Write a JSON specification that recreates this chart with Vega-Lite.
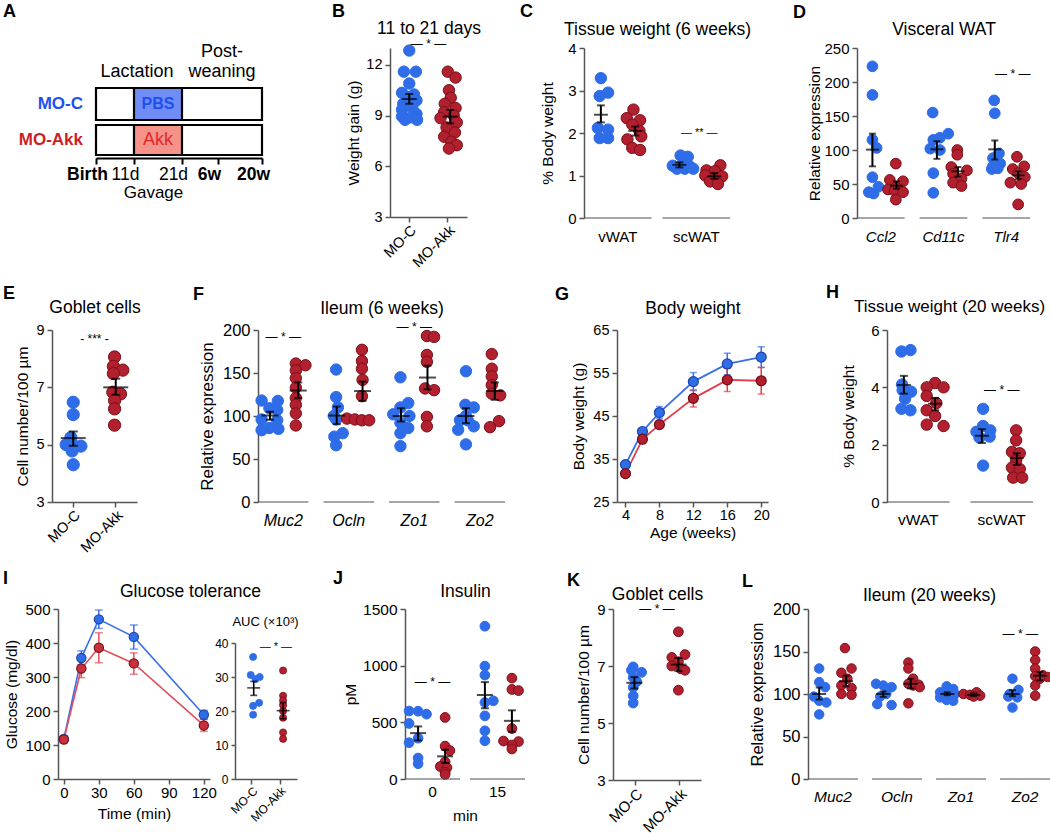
{
"$schema": "https://vega.github.io/schema/vega-lite/v6.json",
"background": "white",
"padding": {"left": 3, "top": 2, "right": 0, "bottom": 0},
"spacing": 14,
"resolve": {"scale": {"color": "independent", "fill": "independent", "stroke": "independent", "xOffset": "independent"}},
"datasets": {
"A_box": [{"x0":0,"x1":166,"y0":38,"y1":70,"k":"none"},{"x0":0,"x1":166,"y0":3,"y1":33,"k":"none"},{"x0":38,"x1":86,"y0":38,"y1":70,"k":"PBS"},{"x0":38,"x1":86,"y0":3,"y1":33,"k":"Akk"}],
"A_txt": [{"x":-13,"y":54,"t":"MO-C","k":"lab"},{"x":-13,"y":18,"t":"MO-Akk","k":"lab"},{"x":62,"y":54,"t":"PBS","k":"pbs"},{"x":62,"y":18,"t":"Akk","k":"norm"},{"x":41,"y":86,"t":"Lactation","k":"norm"},{"x":126,"y":106,"t":"Post-","k":"norm"},{"x":126,"y":86,"t":"weaning","k":"norm"}],
"B_pts": [{"g":"MO-C","s":0,"v":12.85},{"g":"MO-C","s":-0.9,"v":11.6},{"g":"MO-C","s":1.1,"v":11.6},{"g":"MO-C","s":0,"v":10.9},{"g":"MO-C","s":-1.2,"v":10.35},{"g":"MO-C","s":0.8,"v":10.25},{"g":"MO-C","s":-0.3,"v":10.1},{"g":"MO-C","s":1.2,"v":9.9},{"g":"MO-C","s":-1,"v":9.7},{"g":"MO-C","s":0.5,"v":9.5},{"g":"MO-C","s":-1.2,"v":9.35},{"g":"MO-C","s":1.2,"v":9.1},{"g":"MO-C","s":-1.2,"v":8.95},{"g":"MO-C","s":0.3,"v":8.9},{"g":"MO-C","s":-0.7,"v":8.75},{"g":"MO-C","s":1.3,"v":8.75},{"g":"MO-Akk","s":0,"v":11.6},{"g":"MO-Akk","s":1.3,"v":11.25},{"g":"MO-Akk","s":0.2,"v":10.5},{"g":"MO-Akk","s":0.5,"v":10.05},{"g":"MO-Akk","s":-0.5,"v":9.7},{"g":"MO-Akk","s":1.3,"v":9.45},{"g":"MO-Akk","s":-0.6,"v":9.2},{"g":"MO-Akk","s":1.0,"v":9.0},{"g":"MO-Akk","s":-1.2,"v":8.85},{"g":"MO-Akk","s":1.5,"v":8.6},{"g":"MO-Akk","s":-0.2,"v":8.3},{"g":"MO-Akk","s":1.2,"v":8.0},{"g":"MO-Akk","s":-0.6,"v":7.75},{"g":"MO-Akk","s":0.6,"v":7.45},{"g":"MO-Akk","s":1.5,"v":7.25},{"g":"MO-Akk","s":0.2,"v":7.05}],
"B_sum": [{"g":"MO-C","s":0,"m":9.98,"lo":9.7,"hi":10.28},{"g":"MO-Akk","s":0.4,"m":8.94,"lo":8.54,"hi":9.34}],
"B_sig": [{"g":"MO-C","s":3.2,"v":13.25,"t":"— * —"}],
"C_cat": [{"c":"vWAT"},{"c":"scWAT"}],
"C_pts": [{"c":"vWAT","g":"MO-C","s":-2.8,"v":3.29},{"c":"vWAT","g":"MO-C","s":-1.6,"v":2.95},{"c":"vWAT","g":"MO-C","s":-3.0,"v":2.87},{"c":"vWAT","g":"MO-C","s":-3.3,"v":2.12},{"c":"vWAT","g":"MO-C","s":-1.6,"v":2.08},{"c":"vWAT","g":"MO-C","s":-3.0,"v":1.88},{"c":"vWAT","g":"MO-C","s":-1.6,"v":1.88},{"c":"vWAT","g":"MO-Akk","s":2.6,"v":2.55},{"c":"vWAT","g":"MO-Akk","s":1.5,"v":2.35},{"c":"vWAT","g":"MO-Akk","s":3.7,"v":2.3},{"c":"vWAT","g":"MO-Akk","s":2.4,"v":2.2},{"c":"vWAT","g":"MO-Akk","s":3.6,"v":2.05},{"c":"vWAT","g":"MO-Akk","s":3.9,"v":1.92},{"c":"vWAT","g":"MO-Akk","s":1.6,"v":1.85},{"c":"vWAT","g":"MO-Akk","s":2.4,"v":1.65},{"c":"vWAT","g":"MO-Akk","s":3.7,"v":1.6},{"c":"scWAT","g":"MO-C","s":-2.6,"v":1.47},{"c":"scWAT","g":"MO-C","s":-1.4,"v":1.44},{"c":"scWAT","g":"MO-C","s":-3.9,"v":1.23},{"c":"scWAT","g":"MO-C","s":-2.5,"v":1.22},{"c":"scWAT","g":"MO-C","s":-1.2,"v":1.23},{"c":"scWAT","g":"MO-C","s":-3.2,"v":1.16},{"c":"scWAT","g":"MO-C","s":-1.9,"v":1.16},{"c":"scWAT","g":"MO-C","s":-0.5,"v":1.16},{"c":"scWAT","g":"MO-Akk","s":4.0,"v":1.24},{"c":"scWAT","g":"MO-Akk","s":1.7,"v":1.12},{"c":"scWAT","g":"MO-Akk","s":3.1,"v":1.1},{"c":"scWAT","g":"MO-Akk","s":1.5,"v":1.0},{"c":"scWAT","g":"MO-Akk","s":4.3,"v":0.98},{"c":"scWAT","g":"MO-Akk","s":2.9,"v":0.9},{"c":"scWAT","g":"MO-Akk","s":2.3,"v":0.86},{"c":"scWAT","g":"MO-Akk","s":3.6,"v":0.8}],
"C_sum": [{"c":"vWAT","g":"MO-C","s":-2.8,"m":2.43,"lo":2.25,"hi":2.65},{"c":"vWAT","g":"MO-Akk","s":2.9,"m":2.05,"lo":1.94,"hi":2.15},{"c":"scWAT","g":"MO-C","s":-2.8,"m":1.25,"lo":1.19,"hi":1.31},{"c":"scWAT","g":"MO-Akk","s":3.0,"m":0.98,"lo":0.92,"hi":1.06}],
"C_sig": [{"c":"scWAT","s":0.5,"v":1.99,"t":"— ** —"}],
"D_cat": [{"c":"Ccl2"},{"c":"Cd11c"},{"c":"Tlr4"}],
"D_pts": [{"c":"Ccl2","g":"MO-C","s":-1.4,"v":223},{"c":"Ccl2","g":"MO-C","s":-1.4,"v":181},{"c":"Ccl2","g":"MO-C","s":-1.4,"v":115},{"c":"Ccl2","g":"MO-C","s":-0.7,"v":103},{"c":"Ccl2","g":"MO-C","s":-1.4,"v":60},{"c":"Ccl2","g":"MO-C","s":-0.4,"v":46},{"c":"Ccl2","g":"MO-C","s":-2.0,"v":38},{"c":"Ccl2","g":"MO-C","s":-1.2,"v":36},{"c":"Ccl2","g":"MO-Akk","s":2.5,"v":80},{"c":"Ccl2","g":"MO-Akk","s":1.5,"v":56},{"c":"Ccl2","g":"MO-Akk","s":3.7,"v":54},{"c":"Ccl2","g":"MO-Akk","s":2.5,"v":45},{"c":"Ccl2","g":"MO-Akk","s":1.2,"v":42},{"c":"Ccl2","g":"MO-Akk","s":2.3,"v":40},{"c":"Ccl2","g":"MO-Akk","s":3.7,"v":38},{"c":"Ccl2","g":"MO-Akk","s":2.5,"v":27},{"c":"Cd11c","g":"MO-C","s":-1.8,"v":155},{"c":"Cd11c","g":"MO-C","s":0.8,"v":124},{"c":"Cd11c","g":"MO-C","s":-0.6,"v":118},{"c":"Cd11c","g":"MO-C","s":-1.7,"v":115},{"c":"Cd11c","g":"MO-C","s":-2.2,"v":102},{"c":"Cd11c","g":"MO-C","s":-0.6,"v":100},{"c":"Cd11c","g":"MO-C","s":-1.7,"v":66},{"c":"Cd11c","g":"MO-C","s":-1.7,"v":37},{"c":"Cd11c","g":"MO-Akk","s":2.3,"v":100},{"c":"Cd11c","g":"MO-Akk","s":2.3,"v":93},{"c":"Cd11c","g":"MO-Akk","s":1.3,"v":75},{"c":"Cd11c","g":"MO-Akk","s":3.9,"v":70},{"c":"Cd11c","g":"MO-Akk","s":1.6,"v":65},{"c":"Cd11c","g":"MO-Akk","s":3.0,"v":58},{"c":"Cd11c","g":"MO-Akk","s":1.6,"v":52},{"c":"Cd11c","g":"MO-Akk","s":3.0,"v":47},{"c":"Tlr4","g":"MO-C","s":-2.0,"v":173},{"c":"Tlr4","g":"MO-C","s":-1.9,"v":154},{"c":"Tlr4","g":"MO-C","s":-1.2,"v":95},{"c":"Tlr4","g":"MO-C","s":-2.2,"v":88},{"c":"Tlr4","g":"MO-C","s":-1.0,"v":80},{"c":"Tlr4","g":"MO-C","s":-2.2,"v":76},{"c":"Tlr4","g":"MO-C","s":-1.4,"v":73},{"c":"Tlr4","g":"MO-C","s":-2.4,"v":72},{"c":"Tlr4","g":"MO-Akk","s":1.8,"v":90},{"c":"Tlr4","g":"MO-Akk","s":3.0,"v":76},{"c":"Tlr4","g":"MO-Akk","s":1.1,"v":72},{"c":"Tlr4","g":"MO-Akk","s":2.0,"v":66},{"c":"Tlr4","g":"MO-Akk","s":3.1,"v":60},{"c":"Tlr4","g":"MO-Akk","s":0.7,"v":52},{"c":"Tlr4","g":"MO-Akk","s":2.5,"v":50},{"c":"Tlr4","g":"MO-Akk","s":2.0,"v":20}],
"D_sum": [{"c":"Ccl2","g":"MO-C","s":-1.4,"m":100.5,"lo":76,"hi":124},{"c":"Ccl2","g":"MO-Akk","s":2.6,"m":47.5,"lo":43,"hi":54},{"c":"Cd11c","g":"MO-C","s":-1.1,"m":101,"lo":87,"hi":113},{"c":"Cd11c","g":"MO-Akk","s":2.4,"m":68.6,"lo":61,"hi":75},{"c":"Tlr4","g":"MO-C","s":-1.9,"m":101,"lo":86,"hi":114},{"c":"Tlr4","g":"MO-Akk","s":2.0,"m":62.7,"lo":57,"hi":68.6}],
"D_sig": [{"c":"Tlr4","s":1.1,"v":212,"t":"— * —"}],
"E_pts": [{"g":"MO-C","s":0,"v":6.48},{"g":"MO-C","s":0,"v":6.05},{"g":"MO-C","s":-0.4,"v":5.25},{"g":"MO-C","s":-1.2,"v":5.0},{"g":"MO-C","s":0,"v":4.98},{"g":"MO-C","s":1.3,"v":4.95},{"g":"MO-C","s":-0.2,"v":4.78},{"g":"MO-C","s":0,"v":4.3},{"g":"MO-Akk","s":-0.2,"v":8.06},{"g":"MO-Akk","s":-0.4,"v":7.73},{"g":"MO-Akk","s":1.2,"v":7.6},{"g":"MO-Akk","s":-0.4,"v":7.48},{"g":"MO-Akk","s":-0.5,"v":6.83},{"g":"MO-Akk","s":0.8,"v":6.77},{"g":"MO-Akk","s":-0.2,"v":6.54},{"g":"MO-Akk","s":-0.2,"v":6.25},{"g":"MO-Akk","s":-0.2,"v":5.68}],
"E_sum": [{"g":"MO-C","s":0,"m":5.23,"lo":4.96,"hi":5.46},{"g":"MO-Akk","s":0,"m":7.0,"lo":6.74,"hi":7.3}],
"E_sig": [{"g":"MO-C","s":3.6,"v":8.67,"t":"- *** -"}],
"F_cat": [{"c":"Muc2"},{"c":"Ocln"},{"c":"Zo1"},{"c":"Zo2"}],
"F_pts": [{"c":"Muc2","g":"MO-C","s":-3.6,"v":118},{"c":"Muc2","g":"MO-C","s":-0.9,"v":117.5},{"c":"Muc2","g":"MO-C","s":-2.3,"v":109},{"c":"Muc2","g":"MO-C","s":-1.0,"v":107},{"c":"Muc2","g":"MO-C","s":-3.6,"v":96},{"c":"Muc2","g":"MO-C","s":-1.0,"v":95},{"c":"Muc2","g":"MO-C","s":-2.3,"v":86},{"c":"Muc2","g":"MO-C","s":-3.6,"v":83.5},{"c":"Muc2","g":"MO-C","s":-0.8,"v":85},{"c":"Muc2","g":"MO-Akk","s":2.1,"v":161},{"c":"Muc2","g":"MO-Akk","s":3.7,"v":159},{"c":"Muc2","g":"MO-Akk","s":2.1,"v":153},{"c":"Muc2","g":"MO-Akk","s":2.1,"v":144},{"c":"Muc2","g":"MO-Akk","s":2.1,"v":133},{"c":"Muc2","g":"MO-Akk","s":2.1,"v":121},{"c":"Muc2","g":"MO-Akk","s":2.1,"v":113},{"c":"Muc2","g":"MO-Akk","s":2.1,"v":103},{"c":"Muc2","g":"MO-Akk","s":2.1,"v":89},{"c":"Ocln","g":"MO-C","s":-2.1,"v":154},{"c":"Ocln","g":"MO-C","s":-2.1,"v":122},{"c":"Ocln","g":"MO-C","s":-1.8,"v":110},{"c":"Ocln","g":"MO-C","s":-2.5,"v":100},{"c":"Ocln","g":"MO-C","s":-2.1,"v":96},{"c":"Ocln","g":"MO-C","s":-1.0,"v":80},{"c":"Ocln","g":"MO-C","s":-2.4,"v":76},{"c":"Ocln","g":"MO-C","s":-2.1,"v":66},{"c":"Ocln","g":"MO-Akk","s":2.2,"v":177},{"c":"Ocln","g":"MO-Akk","s":2.2,"v":164},{"c":"Ocln","g":"MO-Akk","s":2.2,"v":155},{"c":"Ocln","g":"MO-Akk","s":2.3,"v":142},{"c":"Ocln","g":"MO-Akk","s":2.2,"v":123},{"c":"Ocln","g":"MO-Akk","s":-0.3,"v":97},{"c":"Ocln","g":"MO-Akk","s":1.0,"v":96},{"c":"Ocln","g":"MO-Akk","s":2.2,"v":95},{"c":"Ocln","g":"MO-Akk","s":3.4,"v":95},{"c":"Zo1","g":"MO-C","s":-2.3,"v":145},{"c":"Zo1","g":"MO-C","s":-1.0,"v":115},{"c":"Zo1","g":"MO-C","s":-2.3,"v":110},{"c":"Zo1","g":"MO-C","s":-3.5,"v":102},{"c":"Zo1","g":"MO-C","s":-0.8,"v":100},{"c":"Zo1","g":"MO-C","s":-2.3,"v":92},{"c":"Zo1","g":"MO-C","s":-1.0,"v":86},{"c":"Zo1","g":"MO-C","s":-2.3,"v":80},{"c":"Zo1","g":"MO-C","s":-2.3,"v":65},{"c":"Zo1","g":"MO-Akk","s":2.1,"v":193},{"c":"Zo1","g":"MO-Akk","s":3.3,"v":192},{"c":"Zo1","g":"MO-Akk","s":2.1,"v":171},{"c":"Zo1","g":"MO-Akk","s":2.1,"v":163},{"c":"Zo1","g":"MO-Akk","s":1.8,"v":132},{"c":"Zo1","g":"MO-Akk","s":3.3,"v":130},{"c":"Zo1","g":"MO-Akk","s":2.1,"v":99},{"c":"Zo1","g":"MO-Akk","s":2.1,"v":88},{"c":"Zo2","g":"MO-C","s":-2.3,"v":152},{"c":"Zo2","g":"MO-C","s":-2.4,"v":113},{"c":"Zo2","g":"MO-C","s":-1.0,"v":110},{"c":"Zo2","g":"MO-C","s":-2.3,"v":100},{"c":"Zo2","g":"MO-C","s":-3.3,"v":95},{"c":"Zo2","g":"MO-C","s":-2.0,"v":95},{"c":"Zo2","g":"MO-C","s":-1.0,"v":88},{"c":"Zo2","g":"MO-C","s":-3.6,"v":84},{"c":"Zo2","g":"MO-C","s":-2.3,"v":67},{"c":"Zo2","g":"MO-Akk","s":2.0,"v":172},{"c":"Zo2","g":"MO-Akk","s":2.0,"v":155},{"c":"Zo2","g":"MO-Akk","s":2.0,"v":146},{"c":"Zo2","g":"MO-Akk","s":2.0,"v":136},{"c":"Zo2","g":"MO-Akk","s":2.0,"v":126},{"c":"Zo2","g":"MO-Akk","s":3.4,"v":124},{"c":"Zo2","g":"MO-Akk","s":3.2,"v":94},{"c":"Zo2","g":"MO-Akk","s":1.7,"v":87}],
"F_sum": [{"c":"Muc2","g":"MO-C","s":-2.2,"m":100.6,"lo":95.5,"hi":105},{"c":"Muc2","g":"MO-Akk","s":2.5,"m":129.6,"lo":121,"hi":139},{"c":"Ocln","g":"MO-C","s":-2.0,"m":100.5,"lo":90.5,"hi":111},{"c":"Ocln","g":"MO-Akk","s":2.3,"m":129,"lo":117.6,"hi":140},{"c":"Zo1","g":"MO-C","s":-2.2,"m":100,"lo":93.6,"hi":109},{"c":"Zo1","g":"MO-Akk","s":2.2,"m":144.7,"lo":131,"hi":158.6},{"c":"Zo2","g":"MO-C","s":-2.3,"m":100,"lo":91.7,"hi":109},{"c":"Zo2","g":"MO-Akk","s":2.5,"m":129,"lo":118.8,"hi":139}],
"F_sig": [{"c":"Muc2","s":0,"v":191.5,"t":"— * —"},{"c":"Zo1","s":0,"v":204,"t":"— * —"}],
"G_d": [{"w":4,"g":"MO-C","m":33.7,"lo":33.2,"hi":34.2},{"w":6,"g":"MO-C","m":41.4,"lo":40.8,"hi":42.0},{"w":8,"g":"MO-C","m":45.8,"lo":44.4,"hi":47.2},{"w":12,"g":"MO-C","m":53.0,"lo":50.9,"hi":55.1},{"w":16,"g":"MO-C","m":57.1,"lo":54.6,"hi":59.6},{"w":20,"g":"MO-C","m":58.7,"lo":56.3,"hi":61.1},{"w":4,"g":"MO-Akk","m":31.6,"lo":31.1,"hi":32.1},{"w":6,"g":"MO-Akk","m":39.6,"lo":39.0,"hi":40.2},{"w":8,"g":"MO-Akk","m":43.0,"lo":42.2,"hi":43.8},{"w":12,"g":"MO-Akk","m":49.1,"lo":47.1,"hi":51.1},{"w":16,"g":"MO-Akk","m":53.4,"lo":50.7,"hi":56.1},{"w":20,"g":"MO-Akk","m":53.2,"lo":50.1,"hi":56.3}],
"H_cat": [{"c":"vWAT"},{"c":"scWAT"}],
"H_pts": [{"c":"vWAT","g":"MO-C","s":-1.3,"v":5.3},{"c":"vWAT","g":"MO-C","s":-2.8,"v":5.25},{"c":"vWAT","g":"MO-C","s":-2.7,"v":4.1},{"c":"vWAT","g":"MO-C","s":-2.6,"v":3.9},{"c":"vWAT","g":"MO-C","s":-1.2,"v":3.85},{"c":"vWAT","g":"MO-C","s":-2.2,"v":3.6},{"c":"vWAT","g":"MO-C","s":-2.8,"v":3.25},{"c":"vWAT","g":"MO-C","s":-1.3,"v":3.2},{"c":"vWAT","g":"MO-Akk","s":2.8,"v":4.15},{"c":"vWAT","g":"MO-Akk","s":1.4,"v":4.0},{"c":"vWAT","g":"MO-Akk","s":4.2,"v":4.0},{"c":"vWAT","g":"MO-Akk","s":1.4,"v":3.7},{"c":"vWAT","g":"MO-Akk","s":3.0,"v":3.45},{"c":"vWAT","g":"MO-Akk","s":1.4,"v":3.2},{"c":"vWAT","g":"MO-Akk","s":2.8,"v":3.0},{"c":"vWAT","g":"MO-Akk","s":1.4,"v":2.7},{"c":"vWAT","g":"MO-Akk","s":4.2,"v":2.65},{"c":"scWAT","g":"MO-C","s":-3.1,"v":3.25},{"c":"scWAT","g":"MO-C","s":-3.1,"v":2.65},{"c":"scWAT","g":"MO-C","s":-1.9,"v":2.5},{"c":"scWAT","g":"MO-C","s":-4.2,"v":2.45},{"c":"scWAT","g":"MO-C","s":-2.0,"v":2.28},{"c":"scWAT","g":"MO-C","s":-3.7,"v":2.25},{"c":"scWAT","g":"MO-C","s":-3.1,"v":1.27},{"c":"scWAT","g":"MO-Akk","s":2.4,"v":2.5},{"c":"scWAT","g":"MO-Akk","s":2.4,"v":2.15},{"c":"scWAT","g":"MO-Akk","s":1.7,"v":1.75},{"c":"scWAT","g":"MO-Akk","s":3.0,"v":1.7},{"c":"scWAT","g":"MO-Akk","s":2.4,"v":1.45},{"c":"scWAT","g":"MO-Akk","s":1.7,"v":1.2},{"c":"scWAT","g":"MO-Akk","s":3.0,"v":1.15},{"c":"scWAT","g":"MO-Akk","s":1.9,"v":0.85},{"c":"scWAT","g":"MO-Akk","s":3.4,"v":0.85}],
"H_sum": [{"c":"vWAT","g":"MO-C","s":-2.4,"m":4.08,"lo":3.78,"hi":4.4},{"c":"vWAT","g":"MO-Akk","s":2.8,"m":3.43,"lo":3.2,"hi":3.63},{"c":"scWAT","g":"MO-C","s":-3.3,"m":2.31,"lo":2.06,"hi":2.54},{"c":"scWAT","g":"MO-Akk","s":2.5,"m":1.53,"lo":1.29,"hi":1.7}],
"H_sig": [{"c":"scWAT","s":0,"v":3.9,"t":"— * —"}],
"I_d": [{"t":0,"g":"MO-C","m":118,"lo":110,"hi":126},{"t":15,"g":"MO-C","m":356,"lo":336,"hi":377},{"t":30,"g":"MO-C","m":469.5,"lo":443,"hi":497},{"t":60,"g":"MO-C","m":418,"lo":382,"hi":453},{"t":120,"g":"MO-C","m":189,"lo":176,"hi":202},{"t":0,"g":"MO-Akk","m":116,"lo":106,"hi":126},{"t":15,"g":"MO-Akk","m":325,"lo":298,"hi":352},{"t":30,"g":"MO-Akk","m":386,"lo":342,"hi":430},{"t":60,"g":"MO-Akk","m":340,"lo":308,"hi":371},{"t":120,"g":"MO-Akk","m":157.5,"lo":140,"hi":175}],
"AUC_pts": [{"g":"MO-C","s":0.2,"v":35.9},{"g":"MO-C","s":-0.2,"v":30.6},{"g":"MO-C","s":1.3,"v":30},{"g":"MO-C","s":0.6,"v":29.4},{"g":"MO-C","s":1.2,"v":22.4},{"g":"MO-C","s":0.2,"v":21.5},{"g":"MO-C","s":0.2,"v":18.9},{"g":"MO-Akk","s":0.5,"v":31.9},{"g":"MO-Akk","s":0.5,"v":24.5},{"g":"MO-Akk","s":0.5,"v":23.1},{"g":"MO-Akk","s":0.5,"v":21.7},{"g":"MO-Akk","s":0.5,"v":20},{"g":"MO-Akk","s":0.5,"v":18},{"g":"MO-Akk","s":0.5,"v":13.7},{"g":"MO-Akk","s":0.5,"v":11.8}],
"AUC_sum": [{"g":"MO-C","s":0.3,"m":26.8,"lo":24.6,"hi":28.7},{"g":"MO-Akk","s":0.5,"m":20.1,"lo":17.7,"hi":22.4}],
"AUC_sig": [{"g":"MO-Akk","s":-0.7,"v":38.8,"t":"— * —"}],
"J_cat": [{"c":"0"},{"c":"15"}],
"J_pts": [{"c":"0","g":"MO-C","s":-3.9,"v":600},{"c":"0","g":"MO-C","s":-2.4,"v":598},{"c":"0","g":"MO-C","s":-1.0,"v":572},{"c":"0","g":"MO-C","s":-3.9,"v":490},{"c":"0","g":"MO-C","s":-2.4,"v":360},{"c":"0","g":"MO-C","s":-3.9,"v":320},{"c":"0","g":"MO-C","s":-2.4,"v":185},{"c":"0","g":"MO-C","s":-2.4,"v":135},{"c":"0","g":"MO-Akk","s":2.1,"v":543},{"c":"0","g":"MO-Akk","s":2.1,"v":290},{"c":"0","g":"MO-Akk","s":2.9,"v":250},{"c":"0","g":"MO-Akk","s":2.1,"v":150},{"c":"0","g":"MO-Akk","s":1.3,"v":110},{"c":"0","g":"MO-Akk","s":2.4,"v":100},{"c":"0","g":"MO-Akk","s":2.1,"v":60},{"c":"0","g":"MO-Akk","s":2.1,"v":40},{"c":"15","g":"MO-C","s":-2.1,"v":1348},{"c":"15","g":"MO-C","s":-2.1,"v":996},{"c":"15","g":"MO-C","s":-2.1,"v":917},{"c":"15","g":"MO-C","s":-0.7,"v":690},{"c":"15","g":"MO-C","s":-2.1,"v":675},{"c":"15","g":"MO-C","s":-2.1,"v":557},{"c":"15","g":"MO-C","s":-2.1,"v":425},{"c":"15","g":"MO-C","s":-2.1,"v":337},{"c":"15","g":"MO-Akk","s":2.4,"v":890},{"c":"15","g":"MO-Akk","s":2.4,"v":790},{"c":"15","g":"MO-Akk","s":3.5,"v":780},{"c":"15","g":"MO-Akk","s":2.4,"v":445},{"c":"15","g":"MO-Akk","s":1.0,"v":335},{"c":"15","g":"MO-Akk","s":3.5,"v":330},{"c":"15","g":"MO-Akk","s":2.4,"v":300},{"c":"15","g":"MO-Akk","s":2.4,"v":265}],
"J_sum": [{"c":"0","g":"MO-C","s":-2.4,"m":405,"lo":340,"hi":464},{"c":"0","g":"MO-Akk","s":2.1,"m":200,"lo":141,"hi":258},{"c":"15","g":"MO-C","s":-2.1,"m":741,"lo":624,"hi":855},{"c":"15","g":"MO-Akk","s":2.4,"m":513,"lo":416,"hi":606}],
"J_sig": [{"c":"0","s":0,"v":860,"t":"— * —"}],
"K_pts": [{"g":"MO-C","s":-0.3,"v":6.97},{"g":"MO-C","s":-0.6,"v":6.85},{"g":"MO-C","s":1.1,"v":6.78},{"g":"MO-C","s":-0.3,"v":6.6},{"g":"MO-C","s":0.3,"v":6.45},{"g":"MO-C","s":-0.3,"v":6.25},{"g":"MO-C","s":-0.3,"v":5.95},{"g":"MO-C","s":-0.3,"v":5.7},{"g":"MO-Akk","s":-0.1,"v":8.2},{"g":"MO-Akk","s":1.0,"v":7.4},{"g":"MO-Akk","s":-1.2,"v":7.3},{"g":"MO-Akk","s":-0.1,"v":7.15},{"g":"MO-Akk","s":-1.2,"v":7.0},{"g":"MO-Akk","s":0.3,"v":6.9},{"g":"MO-Akk","s":1.0,"v":6.85},{"g":"MO-Akk","s":-0.1,"v":6.15}],
"K_sum": [{"g":"MO-C","s":-0.1,"m":6.41,"lo":6.21,"hi":6.61},{"g":"MO-Akk","s":-0.1,"m":7.05,"lo":6.82,"hi":7.28}],
"K_sig": [{"g":"MO-C","s":3.67,"v":9.0,"t":"— * —"}],
"L_cat": [{"c":"Muc2"},{"c":"Ocln"},{"c":"Zo1"},{"c":"Zo2"}],
"L_pts": [{"c":"Muc2","g":"MO-C","s":-2.3,"v":130},{"c":"Muc2","g":"MO-C","s":-2.3,"v":114},{"c":"Muc2","g":"MO-C","s":-1.3,"v":108},{"c":"Muc2","g":"MO-C","s":-3.2,"v":97},{"c":"Muc2","g":"MO-C","s":-2.3,"v":92},{"c":"Muc2","g":"MO-C","s":-1.1,"v":90},{"c":"Muc2","g":"MO-C","s":-2.3,"v":76},{"c":"Muc2","g":"MO-Akk","s":2.0,"v":154},{"c":"Muc2","g":"MO-Akk","s":3.1,"v":130},{"c":"Muc2","g":"MO-Akk","s":1.4,"v":125},{"c":"Muc2","g":"MO-Akk","s":2.4,"v":118},{"c":"Muc2","g":"MO-Akk","s":1.4,"v":110},{"c":"Muc2","g":"MO-Akk","s":3.1,"v":107},{"c":"Muc2","g":"MO-Akk","s":1.4,"v":100},{"c":"Muc2","g":"MO-Akk","s":3.1,"v":99},{"c":"Ocln","g":"MO-C","s":-3.5,"v":112},{"c":"Ocln","g":"MO-C","s":-2.3,"v":110},{"c":"Ocln","g":"MO-C","s":-0.9,"v":108},{"c":"Ocln","g":"MO-C","s":-1.8,"v":100},{"c":"Ocln","g":"MO-C","s":-2.8,"v":97},{"c":"Ocln","g":"MO-C","s":-3.3,"v":88},{"c":"Ocln","g":"MO-C","s":-0.9,"v":87},{"c":"Ocln","g":"MO-Akk","s":1.9,"v":137},{"c":"Ocln","g":"MO-Akk","s":1.9,"v":130},{"c":"Ocln","g":"MO-Akk","s":2.7,"v":118},{"c":"Ocln","g":"MO-Akk","s":1.9,"v":112},{"c":"Ocln","g":"MO-Akk","s":3.6,"v":111},{"c":"Ocln","g":"MO-Akk","s":2.7,"v":110},{"c":"Ocln","g":"MO-Akk","s":3.8,"v":108},{"c":"Ocln","g":"MO-Akk","s":1.9,"v":89},{"c":"Zo1","g":"MO-C","s":-2.4,"v":109},{"c":"Zo1","g":"MO-C","s":-1.3,"v":106},{"c":"Zo1","g":"MO-C","s":-3.5,"v":102},{"c":"Zo1","g":"MO-C","s":-1.0,"v":100},{"c":"Zo1","g":"MO-C","s":-2.4,"v":99},{"c":"Zo1","g":"MO-C","s":-3.5,"v":96},{"c":"Zo1","g":"MO-C","s":-2.4,"v":93},{"c":"Zo1","g":"MO-C","s":-1.3,"v":92},{"c":"Zo1","g":"MO-Akk","s":2.6,"v":102},{"c":"Zo1","g":"MO-Akk","s":0.4,"v":100},{"c":"Zo1","g":"MO-Akk","s":1.5,"v":99},{"c":"Zo1","g":"MO-Akk","s":3.2,"v":98},{"c":"Zo1","g":"MO-Akk","s":2.1,"v":97},{"c":"Zo2","g":"MO-C","s":-2.1,"v":118},{"c":"Zo2","g":"MO-C","s":-1.1,"v":105},{"c":"Zo2","g":"MO-C","s":-2.6,"v":100},{"c":"Zo2","g":"MO-C","s":-2.8,"v":97},{"c":"Zo2","g":"MO-C","s":-1.3,"v":96},{"c":"Zo2","g":"MO-C","s":-2.1,"v":84},{"c":"Zo2","g":"MO-Akk","s":1.7,"v":150},{"c":"Zo2","g":"MO-Akk","s":1.7,"v":140},{"c":"Zo2","g":"MO-Akk","s":1.7,"v":130},{"c":"Zo2","g":"MO-Akk","s":3.0,"v":122},{"c":"Zo2","g":"MO-Akk","s":1.7,"v":121},{"c":"Zo2","g":"MO-Akk","s":3.8,"v":120},{"c":"Zo2","g":"MO-Akk","s":2.5,"v":118},{"c":"Zo2","g":"MO-Akk","s":1.7,"v":110},{"c":"Zo2","g":"MO-Akk","s":1.7,"v":98}],
"L_sum": [{"c":"Muc2","g":"MO-C","s":-2.3,"m":100,"lo":93.5,"hi":107.7},{"c":"Muc2","g":"MO-Akk","s":2.2,"m":115,"lo":109,"hi":121.5},{"c":"Ocln","g":"MO-C","s":-2.3,"m":100,"lo":96.6,"hi":103},{"c":"Ocln","g":"MO-Akk","s":2.3,"m":112,"lo":106.5,"hi":118},{"c":"Zo1","g":"MO-C","s":-2.3,"m":100,"lo":98.6,"hi":102},{"c":"Zo1","g":"MO-Akk","s":2.1,"m":99,"lo":97.4,"hi":100.6},{"c":"Zo2","g":"MO-C","s":-2.1,"m":100,"lo":97.4,"hi":104.5},{"c":"Zo2","g":"MO-Akk","s":2.5,"m":121.5,"lo":116,"hi":126}],
"L_sig": [{"c":"Zo2","s":-0.8,"v":171,"t":"— * —"}]
},
"vconcat": [
{"hconcat": [
 {"width": 44, "height": 5, "data": {"values": []}, "mark": "point", "encoding": {}},
 {"width": 166, "height": 110,
  "title": {"text": "A", "dx": -93, "offset": 22},
  "layer": [
   {"data": {"name": "A_box"}, "mark": {"type": "rect", "stroke": "#000", "strokeWidth": 2.2},
    "encoding": {
     "x": {"field": "x0", "type": "quantitative", "scale": {"domain": [0, 166], "nice": false, "zero": false},
      "axis": {"orient": "bottom", "values": [0, 38, 86, 122, 166], "labelExpr": "datum.value == 0 ? 'Birth' : datum.value == 38 ? '11d' : datum.value == 86 ? '21d' : datum.value == 122 ? '6w' : '20w'",
       "labelFontWeight": {"condition": {"test": "datum.value == 38 || datum.value == 86", "value": "normal"}, "value": "bold"},
       "labelFontSize": 17.5, "labelFlush": false, "labelOverlap": false, "labelOffset": -9, "labelPadding": 1,
       "domainColor": "#000", "domainWidth": 2, "tickColor": "#000", "tickWidth": 2, "tickSize": 6,
       "title": "Gavage", "titleFontSize": 17, "titleX": 57, "titleY": 26, "titleBaseline": "top", "titleAlign": "center"}},
     "x2": {"field": "x1"},
     "y": {"field": "y0", "type": "quantitative", "scale": {"domain": [0, 110], "nice": false, "zero": false}, "axis": null},
     "y2": {"field": "y1"},
     "fill": {"field": "k", "type": "nominal", "scale": {"domain": ["none", "PBS", "Akk"], "range": ["#ffffff", "#6F8DF5", "#F5928A"]}, "legend": null}}},
   {"data": {"name": "A_txt"}, "transform": [{"filter": "datum.k == 'lab'"}],
    "mark": {"type": "text", "align": "right", "baseline": "middle", "fontSize": 17, "fontWeight": "bold"},
    "encoding": {"x": {"field": "x", "type": "quantitative"}, "y": {"field": "y", "type": "quantitative"}, "text": {"field": "t"},
     "color": {"field": "t", "type": "nominal", "scale": {"domain": ["MO-C", "MO-Akk", "PBS", "Akk", "Lactation", "Post-", "weaning"], "range": ["#1E50F0", "#CC1F26", "#1E50F0", "#E0282C", "#000000", "#000000", "#000000"]}, "legend": null}}},
   {"data": {"name": "A_txt"}, "transform": [{"filter": "datum.k == 'pbs'"}],
    "mark": {"type": "text", "align": "center", "baseline": "middle", "fontSize": 16, "fontWeight": "bold"},
    "encoding": {"x": {"field": "x", "type": "quantitative"}, "y": {"field": "y", "type": "quantitative"}, "text": {"field": "t"}, "color": {"field": "t", "type": "nominal", "legend": null}}},
   {"data": {"name": "A_txt"}, "transform": [{"filter": "datum.k == 'norm'"}],
    "mark": {"type": "text", "align": "center", "baseline": "middle", "fontSize": 18},
    "encoding": {"x": {"field": "x", "type": "quantitative"}, "y": {"field": "y", "type": "quantitative"}, "text": {"field": "t"}, "color": {"field": "t", "type": "nominal", "legend": null}}}
  ]},
 {"width": 128, "height": 5, "data": {"values": []}, "mark": "point", "encoding": {}},
 {"width": 77, "height": 169,
  "title": {"text": "B", "dx": -58, "offset": -1},
  "resolve": {"axis": {"x": "independent"}},
  "layer": [
   {"data": {"name": "B_pts"}, "mark": {"type": "circle", "size": 130, "opacity": 1, "strokeWidth": 1},
    "encoding": {
     "x": {"field": "g", "type": "nominal", "scale": {"type": "band", "domain": ["MO-C", "MO-Akk"], "paddingInner": 0, "paddingOuter": 0},
      "axis": {"orient": "bottom", "title": null, "labelAngle": -45, "labelAlign": "right", "labelBaseline": "top", "labelFontSize": 14.5, "labelPadding": 1}},
     "xOffset": {"field": "s", "type": "quantitative", "scale": {"domain": [-3.2, 3.2], "nice": false, "zero": false}},
     "y": {"field": "v", "type": "quantitative", "scale": {"domain": [3, 13], "nice": false, "zero": false},
      "axis": {"values": [3, 6, 9, 12], "title": "Weight gain (g)", "titleX": -37, "titleBaseline": "middle", "labelFontSize": 14.5, "labelOverlap": false}},
     "fill": {"field": "g", "type": "nominal", "scale": {"domain": ["MO-C", "MO-Akk"], "range": ["#2F6CE8", "#B21F2E"]}, "legend": null},
     "stroke": {"field": "g", "type": "nominal", "scale": {"domain": ["MO-C", "MO-Akk"], "range": ["#2F6CE8", "#7A1019"]}, "legend": null}}},
   {"data": {"name": "B_sum"}, "mark": {"type": "rule", "color": "#000", "strokeWidth": 2},
    "encoding": {"x": {"field": "g", "type": "nominal", "axis": null}, "xOffset": {"field": "s", "type": "quantitative"}, "y": {"field": "lo", "type": "quantitative"}, "y2": {"field": "hi"}}},
   {"data": {"name": "B_sum"}, "mark": {"type": "tick", "color": "#000", "thickness": 2, "size": 8},
    "encoding": {"x": {"field": "g", "type": "nominal", "axis": null}, "xOffset": {"field": "s", "type": "quantitative"}, "y": {"field": "lo", "type": "quantitative"}}},
   {"data": {"name": "B_sum"}, "mark": {"type": "tick", "color": "#000", "thickness": 2, "size": 8},
    "encoding": {"x": {"field": "g", "type": "nominal", "axis": null}, "xOffset": {"field": "s", "type": "quantitative"}, "y": {"field": "hi", "type": "quantitative"}}},
   {"data": {"name": "B_sum"}, "mark": {"type": "tick", "color": "#000", "thickness": 2, "size": 15},
    "encoding": {"x": {"field": "g", "type": "nominal", "axis": {"orient": "top", "title": "11 to 21 days", "labels": false, "ticks": false, "domain": false, "titleFontSize": 17.5, "titlePadding": 10.5}},
     "xOffset": {"field": "s", "type": "quantitative"}, "y": {"field": "m", "type": "quantitative"}}},
   {"data": {"name": "B_sig"}, "mark": {"type": "text", "fontSize": 12, "baseline": "middle"},
    "encoding": {"x": {"field": "g", "type": "nominal", "axis": null}, "xOffset": {"field": "s", "type": "quantitative"}, "y": {"field": "v", "type": "quantitative"}, "text": {"field": "t"}}}
  ]},
 {"width": 117, "height": 5, "data": {"values": []}, "mark": "point", "encoding": {}},
 {"width": 146, "height": 170,
  "title": {"text": "C", "dx": -64, "offset": -1},
  "resolve": {"axis": {"x": "independent"}},
  "layer": [
   {"data": {"name": "C_pts"}, "mark": {"type": "circle", "size": 130, "opacity": 1, "strokeWidth": 1},
    "encoding": {"x": {"field": "c", "type": "nominal", "scale": {"type": "band", "domain": ["vWAT", "scWAT"], "paddingInner": 0.14, "paddingOuter": 0}, "axis": null},
     "xOffset": {"field": "s", "type": "quantitative", "scale": {"domain": [-5.6, 5.6], "nice": false, "zero": false}},
     "y": {"field": "v", "type": "quantitative", "scale": {"domain": [0, 4], "nice": false, "zero": false},
      "axis": {"values": [0, 1, 2, 3, 4], "title": "% Body weight", "titleX": -37, "titleBaseline": "middle", "labelFontSize": 15, "labelOverlap": false}},
     "fill": {"field": "g", "type": "nominal", "scale": {"domain": ["MO-C", "MO-Akk"], "range": ["#2F6CE8", "#B21F2E"]}, "legend": null},
     "stroke": {"field": "g", "type": "nominal", "scale": {"domain": ["MO-C", "MO-Akk"], "range": ["#2F6CE8", "#7A1019"]}, "legend": null}}},
   {"data": {"name": "C_cat"}, "mark": {"type": "tick", "color": "#555555", "thickness": 1.5, "size": 67.5},
    "encoding": {"x": {"field": "c", "type": "nominal",
      "axis": {"orient": "bottom", "title": null, "labelAngle": 0, "domain": false, "ticks": false, "tickSize": 0, "labelPadding": 11, "labelFontSize": 15}},
     "y": {"datum": 0, "type": "quantitative"}}},
   {"data": {"name": "C_sum"}, "mark": {"type": "rule", "color": "#000", "strokeWidth": 2},
    "encoding": {"x": {"field": "c", "type": "nominal", "axis": null}, "xOffset": {"field": "s", "type": "quantitative"}, "y": {"field": "lo", "type": "quantitative"}, "y2": {"field": "hi"}}},
   {"data": {"name": "C_sum"}, "mark": {"type": "tick", "color": "#000", "thickness": 2, "size": 8},
    "encoding": {"x": {"field": "c", "type": "nominal", "axis": null}, "xOffset": {"field": "s", "type": "quantitative"}, "y": {"field": "lo", "type": "quantitative"}}},
   {"data": {"name": "C_sum"}, "mark": {"type": "tick", "color": "#000", "thickness": 2, "size": 8},
    "encoding": {"x": {"field": "c", "type": "nominal", "axis": null}, "xOffset": {"field": "s", "type": "quantitative"}, "y": {"field": "hi", "type": "quantitative"}}},
   {"data": {"name": "C_sum"}, "mark": {"type": "tick", "color": "#000", "thickness": 2, "size": 14},
    "encoding": {"x": {"field": "c", "type": "nominal", "axis": {"orient": "top", "title": "Tissue weight (6 weeks)", "labels": false, "ticks": false, "domain": false, "titleFontSize": 17.5, "titlePadding": 10}},
     "xOffset": {"field": "s", "type": "quantitative"}, "y": {"field": "m", "type": "quantitative"}}},
   {"data": {"name": "C_sig"}, "mark": {"type": "text", "fontSize": 11, "baseline": "middle"},
    "encoding": {"x": {"field": "c", "type": "nominal", "axis": null}, "xOffset": {"field": "s", "type": "quantitative"}, "y": {"field": "v", "type": "quantitative"}, "text": {"field": "t"}}}
  ]},
 {"width": 127, "height": 5, "data": {"values": []}, "mark": "point", "encoding": {}},
 {"width": 173, "height": 170,
  "title": {"text": "D", "dx": -64, "offset": -1},
  "resolve": {"axis": {"x": "independent"}},
  "layer": [
   {"data": {"name": "D_pts"}, "mark": {"type": "circle", "size": 115, "opacity": 1, "strokeWidth": 1},
    "encoding": {"x": {"field": "c", "type": "nominal", "scale": {"type": "band", "domain": ["Ccl2", "Cd11c", "Tlr4"], "paddingInner": 0.24, "paddingOuter": 0}, "axis": null},
     "xOffset": {"field": "s", "type": "quantitative", "scale": {"domain": [-3.97, 3.97], "nice": false, "zero": false}},
     "y": {"field": "v", "type": "quantitative", "scale": {"domain": [0, 250], "nice": false, "zero": false},
      "axis": {"values": [0, 50, 100, 150, 200, 250], "title": "Relative expression", "titleX": -43, "titleBaseline": "middle", "labelFontSize": 15, "labelOverlap": false, "tickCount": 6}},
     "fill": {"field": "g", "type": "nominal", "scale": {"domain": ["MO-C", "MO-Akk"], "range": ["#2F6CE8", "#B21F2E"]}, "legend": null},
     "stroke": {"field": "g", "type": "nominal", "scale": {"domain": ["MO-C", "MO-Akk"], "range": ["#2F6CE8", "#7A1019"]}, "legend": null}}},
   {"data": {"name": "D_cat"}, "mark": {"type": "tick", "color": "#555555", "thickness": 1.5, "size": 47.6},
    "encoding": {"x": {"field": "c", "type": "nominal",
      "axis": {"orient": "bottom", "title": null, "labelAngle": 0, "domain": false, "ticks": false, "tickSize": 0, "labelPadding": 11, "labelFontSize": 15, "labelFontStyle": "italic"}},
     "y": {"datum": 0, "type": "quantitative"}}},
   {"data": {"name": "D_sum"}, "mark": {"type": "rule", "color": "#000", "strokeWidth": 2},
    "encoding": {"x": {"field": "c", "type": "nominal", "axis": null}, "xOffset": {"field": "s", "type": "quantitative"}, "y": {"field": "lo", "type": "quantitative"}, "y2": {"field": "hi"}}},
   {"data": {"name": "D_sum"}, "mark": {"type": "tick", "color": "#000", "thickness": 2, "size": 7},
    "encoding": {"x": {"field": "c", "type": "nominal", "axis": null}, "xOffset": {"field": "s", "type": "quantitative"}, "y": {"field": "lo", "type": "quantitative"}}},
   {"data": {"name": "D_sum"}, "mark": {"type": "tick", "color": "#000", "thickness": 2, "size": 7},
    "encoding": {"x": {"field": "c", "type": "nominal", "axis": null}, "xOffset": {"field": "s", "type": "quantitative"}, "y": {"field": "hi", "type": "quantitative"}}},
   {"data": {"name": "D_sum"}, "mark": {"type": "tick", "color": "#000", "thickness": 2, "size": 13},
    "encoding": {"x": {"field": "c", "type": "nominal", "axis": {"orient": "top", "title": "Visceral WAT", "labels": false, "ticks": false, "domain": false, "titleFontSize": 17.5, "titlePadding": 9.5}},
     "xOffset": {"field": "s", "type": "quantitative"}, "y": {"field": "m", "type": "quantitative"}}},
   {"data": {"name": "D_sig"}, "mark": {"type": "text", "fontSize": 12, "baseline": "middle"},
    "encoding": {"x": {"field": "c", "type": "nominal", "axis": null}, "xOffset": {"field": "s", "type": "quantitative"}, "y": {"field": "v", "type": "quantitative"}, "text": {"field": "t"}}}
  ]}
 ],
 "spacing": 0, "bounds": "flush",
 "resolve": {"scale": {"color": "independent", "fill": "independent", "stroke": "independent", "xOffset": "independent"}}
},
{"hconcat": [
 {"width": 85, "height": 172,
  "title": {"text": "E", "dx": -49, "offset": -5},
  "resolve": {"axis": {"x": "independent"}},
  "layer": [
   {"data": {"name": "E_pts"}, "mark": {"type": "circle", "size": 150, "opacity": 1, "strokeWidth": 1},
    "encoding": {
     "x": {"field": "g", "type": "nominal", "scale": {"type": "band", "domain": ["MO-C", "MO-Akk"], "paddingInner": 0, "paddingOuter": 0},
      "axis": {"orient": "bottom", "title": null, "labelAngle": -45, "labelAlign": "right", "labelBaseline": "top", "labelFontSize": 14.5, "labelPadding": 1}},
     "xOffset": {"field": "s", "type": "quantitative", "scale": {"domain": [-3.6, 3.6], "nice": false, "zero": false}},
     "y": {"field": "v", "type": "quantitative", "scale": {"domain": [3, 9], "nice": false, "zero": false},
      "axis": {"values": [3, 5, 7, 9], "title": "Cell number/100 µm", "titleX": -30, "titleBaseline": "middle", "labelFontSize": 14.5, "labelOverlap": false}},
     "fill": {"field": "g", "type": "nominal", "scale": {"domain": ["MO-C", "MO-Akk"], "range": ["#2F6CE8", "#B21F2E"]}, "legend": null},
     "stroke": {"field": "g", "type": "nominal", "scale": {"domain": ["MO-C", "MO-Akk"], "range": ["#2F6CE8", "#7A1019"]}, "legend": null}}},
   {"data": {"name": "E_sum"}, "mark": {"type": "rule", "color": "#000", "strokeWidth": 2},
    "encoding": {"x": {"field": "g", "type": "nominal", "axis": null}, "xOffset": {"field": "s", "type": "quantitative"}, "y": {"field": "lo", "type": "quantitative"}, "y2": {"field": "hi"}}},
   {"data": {"name": "E_sum"}, "mark": {"type": "tick", "color": "#000", "thickness": 2, "size": 9},
    "encoding": {"x": {"field": "g", "type": "nominal", "axis": null}, "xOffset": {"field": "s", "type": "quantitative"}, "y": {"field": "lo", "type": "quantitative"}}},
   {"data": {"name": "E_sum"}, "mark": {"type": "tick", "color": "#000", "thickness": 2, "size": 9},
    "encoding": {"x": {"field": "g", "type": "nominal", "axis": null}, "xOffset": {"field": "s", "type": "quantitative"}, "y": {"field": "hi", "type": "quantitative"}}},
   {"data": {"name": "E_sum"}, "mark": {"type": "tick", "color": "#000", "thickness": 2, "size": 25},
    "encoding": {"x": {"field": "g", "type": "nominal", "axis": {"orient": "top", "title": "Goblet cells", "labels": false, "ticks": false, "domain": false, "titleFontSize": 17.5, "titlePadding": 14}},
     "xOffset": {"field": "s", "type": "quantitative"}, "y": {"field": "m", "type": "quantitative"}}},
   {"data": {"name": "E_sig"}, "mark": {"type": "text", "fontSize": 12, "baseline": "middle"},
    "encoding": {"x": {"field": "g", "type": "nominal", "axis": null}, "xOffset": {"field": "s", "type": "quantitative"}, "y": {"field": "v", "type": "quantitative"}, "text": {"field": "t"}}}
  ]},
 {"width": 121, "height": 5, "data": {"values": []}, "mark": "point", "encoding": {}},
 {"width": 247, "height": 172,
  "title": {"text": "F", "dx": -65, "offset": -5},
  "resolve": {"axis": {"x": "independent"}},
  "layer": [
   {"data": {"name": "F_pts"}, "mark": {"type": "circle", "size": 130, "opacity": 1, "strokeWidth": 1},
    "encoding": {"x": {"field": "c", "type": "nominal", "scale": {"type": "band", "domain": ["Muc2", "Ocln", "Zo1", "Zo2"], "paddingInner": 0.23, "paddingOuter": 0}, "axis": null},
     "xOffset": {"field": "s", "type": "quantitative", "scale": {"domain": [-4.2, 4.2], "nice": false, "zero": false}},
     "y": {"field": "v", "type": "quantitative", "scale": {"domain": [0, 200], "nice": false, "zero": false},
      "axis": {"values": [0, 50, 100, 150, 200], "title": "Relative expression", "titleX": -51, "titleBaseline": "middle", "labelFontSize": 16.5, "titleFontSize": 17, "labelOverlap": false}},
     "fill": {"field": "g", "type": "nominal", "scale": {"domain": ["MO-C", "MO-Akk"], "range": ["#2F6CE8", "#B21F2E"]}, "legend": null},
     "stroke": {"field": "g", "type": "nominal", "scale": {"domain": ["MO-C", "MO-Akk"], "range": ["#2F6CE8", "#7A1019"]}, "legend": null}}},
   {"data": {"name": "F_cat"}, "mark": {"type": "tick", "color": "#555555", "thickness": 1.5, "size": 50.4},
    "encoding": {"x": {"field": "c", "type": "nominal",
      "axis": {"orient": "bottom", "title": null, "labelAngle": 0, "domain": false, "ticks": false, "tickSize": 0, "labelPadding": 10, "labelFontSize": 16, "labelFontStyle": "italic"}},
     "y": {"datum": 0, "type": "quantitative"}}},
   {"data": {"name": "F_sum"}, "mark": {"type": "rule", "color": "#000", "strokeWidth": 2},
    "encoding": {"x": {"field": "c", "type": "nominal", "axis": null}, "xOffset": {"field": "s", "type": "quantitative"}, "y": {"field": "lo", "type": "quantitative"}, "y2": {"field": "hi"}}},
   {"data": {"name": "F_sum"}, "mark": {"type": "tick", "color": "#000", "thickness": 2, "size": 8},
    "encoding": {"x": {"field": "c", "type": "nominal", "axis": null}, "xOffset": {"field": "s", "type": "quantitative"}, "y": {"field": "lo", "type": "quantitative"}}},
   {"data": {"name": "F_sum"}, "mark": {"type": "tick", "color": "#000", "thickness": 2, "size": 8},
    "encoding": {"x": {"field": "c", "type": "nominal", "axis": null}, "xOffset": {"field": "s", "type": "quantitative"}, "y": {"field": "hi", "type": "quantitative"}}},
   {"data": {"name": "F_sum"}, "mark": {"type": "tick", "color": "#000", "thickness": 2, "size": 17},
    "encoding": {"x": {"field": "c", "type": "nominal", "axis": {"orient": "top", "title": "Ileum (6 weeks)", "labels": false, "ticks": false, "domain": false, "titleFontSize": 17.5, "titlePadding": 13}},
     "xOffset": {"field": "s", "type": "quantitative"}, "y": {"field": "m", "type": "quantitative"}}},
   {"data": {"name": "F_sig"}, "mark": {"type": "text", "fontSize": 12, "baseline": "middle"},
    "encoding": {"x": {"field": "c", "type": "nominal", "axis": null}, "xOffset": {"field": "s", "type": "quantitative"}, "y": {"field": "v", "type": "quantitative"}, "text": {"field": "t"}}}
  ]},
 {"width": 112, "height": 5, "data": {"values": []}, "mark": "point", "encoding": {}},
 {"width": 151, "height": 172,
  "title": {"text": "G", "dx": -62, "offset": -5},
  "data": {"name": "G_d"},
  "resolve": {"axis": {"x": "independent"}},
  "layer": [
   {"mark": {"type": "rule", "strokeWidth": 1.5},
    "encoding": {
     "x": {"field": "w", "type": "quantitative", "scale": {"domain": [3, 20.8], "nice": false, "zero": false},
      "axis": {"orient": "bottom", "values": [4, 8, 12, 16, 20], "title": "Age (weeks)", "labelFlush": false, "labelFontSize": 14.5, "labelPadding": 1, "titlePadding": 4}},
     "y": {"field": "lo", "type": "quantitative", "scale": {"domain": [25, 65], "nice": false, "zero": false},
      "axis": {"values": [25, 35, 45, 55, 65], "title": "Body weight (g)", "titleX": -39, "titleBaseline": "middle", "labelFontSize": 14.5, "labelOverlap": false}},
     "y2": {"field": "hi"},
     "color": {"field": "g", "type": "nominal", "scale": {"domain": ["MO-C", "MO-Akk"], "range": ["#3A6EEA", "#E23C4C"]}, "legend": null}}},
   {"mark": {"type": "tick", "orient": "horizontal", "size": 7, "thickness": 1.5},
    "encoding": {"x": {"field": "w", "type": "quantitative", "axis": null}, "y": {"field": "lo", "type": "quantitative"}, "color": {"field": "g", "type": "nominal", "legend": null}}},
   {"mark": {"type": "tick", "orient": "horizontal", "size": 7, "thickness": 1.5},
    "encoding": {"x": {"field": "w", "type": "quantitative", "axis": null}, "y": {"field": "hi", "type": "quantitative"}, "color": {"field": "g", "type": "nominal", "legend": null}}},
   {"mark": {"type": "line", "strokeWidth": 1.8},
    "encoding": {"x": {"field": "w", "type": "quantitative", "axis": {"orient": "top", "title": "Body weight", "labels": false, "ticks": false, "domain": false, "titleFontSize": 17.5, "titlePadding": 13}},
     "y": {"field": "m", "type": "quantitative"}, "color": {"field": "g", "type": "nominal", "legend": null}}},
   {"mark": {"type": "circle", "size": 100, "opacity": 1, "strokeWidth": 1.2},
    "encoding": {"x": {"field": "w", "type": "quantitative", "axis": null}, "y": {"field": "m", "type": "quantitative"},
     "fill": {"field": "g", "type": "nominal", "scale": {"domain": ["MO-C", "MO-Akk"], "range": ["#2F6CE8", "#B21F2E"]}, "legend": null},
     "stroke": {"field": "g", "type": "nominal", "scale": {"domain": ["MO-C", "MO-Akk"], "range": ["#1B45A8", "#6E0E17"]}, "legend": null}}}
  ]},
 {"width": 119, "height": 5, "data": {"values": []}, "mark": "point", "encoding": {}},
 {"width": 146, "height": 172,
  "title": {"text": "H", "dx": -61, "offset": -5},
  "resolve": {"axis": {"x": "independent"}},
  "layer": [
   {"data": {"name": "H_pts"}, "mark": {"type": "circle", "size": 130, "opacity": 1, "strokeWidth": 1},
    "encoding": {"x": {"field": "c", "type": "nominal", "scale": {"type": "band", "domain": ["vWAT", "scWAT"], "paddingInner": 0.25, "paddingOuter": 0}, "axis": null},
     "xOffset": {"field": "s", "type": "quantitative", "scale": {"domain": [-5.2, 5.2], "nice": false, "zero": false}},
     "y": {"field": "v", "type": "quantitative", "scale": {"domain": [0, 6], "nice": false, "zero": false},
      "axis": {"values": [0, 2, 4, 6], "title": "% Body weight", "titleX": -39, "titleBaseline": "middle", "labelFontSize": 15, "labelOverlap": false}},
     "fill": {"field": "g", "type": "nominal", "scale": {"domain": ["MO-C", "MO-Akk"], "range": ["#2F6CE8", "#B21F2E"]}, "legend": null},
     "stroke": {"field": "g", "type": "nominal", "scale": {"domain": ["MO-C", "MO-Akk"], "range": ["#2F6CE8", "#7A1019"]}, "legend": null}}},
   {"data": {"name": "H_cat"}, "mark": {"type": "tick", "color": "#555555", "thickness": 1.5, "size": 62.6},
    "encoding": {"x": {"field": "c", "type": "nominal",
      "axis": {"orient": "bottom", "title": null, "labelAngle": 0, "domain": false, "ticks": false, "tickSize": 0, "labelPadding": 10, "labelFontSize": 15.5}},
     "y": {"datum": 0, "type": "quantitative"}}},
   {"data": {"name": "H_sum"}, "mark": {"type": "rule", "color": "#000", "strokeWidth": 2},
    "encoding": {"x": {"field": "c", "type": "nominal", "axis": null}, "xOffset": {"field": "s", "type": "quantitative"}, "y": {"field": "lo", "type": "quantitative"}, "y2": {"field": "hi"}}},
   {"data": {"name": "H_sum"}, "mark": {"type": "tick", "color": "#000", "thickness": 2, "size": 8},
    "encoding": {"x": {"field": "c", "type": "nominal", "axis": null}, "xOffset": {"field": "s", "type": "quantitative"}, "y": {"field": "lo", "type": "quantitative"}}},
   {"data": {"name": "H_sum"}, "mark": {"type": "tick", "color": "#000", "thickness": 2, "size": 8},
    "encoding": {"x": {"field": "c", "type": "nominal", "axis": null}, "xOffset": {"field": "s", "type": "quantitative"}, "y": {"field": "hi", "type": "quantitative"}}},
   {"data": {"name": "H_sum"}, "mark": {"type": "tick", "color": "#000", "thickness": 2, "size": 14},
    "encoding": {"x": {"field": "c", "type": "nominal", "axis": {"orient": "top", "title": "Tissue weight (20 weeks)", "labels": false, "ticks": false, "domain": false, "titleFontSize": 17, "titlePadding": 15, "titleX": 62}},
     "xOffset": {"field": "s", "type": "quantitative"}, "y": {"field": "m", "type": "quantitative"}}},
   {"data": {"name": "H_sig"}, "mark": {"type": "text", "fontSize": 12, "baseline": "middle"},
    "encoding": {"x": {"field": "c", "type": "nominal", "axis": null}, "xOffset": {"field": "s", "type": "quantitative"}, "y": {"field": "v", "type": "quantitative"}, "text": {"field": "t"}}}
  ]}
 ],
 "spacing": 0, "bounds": "flush",
 "resolve": {"scale": {"color": "independent", "fill": "independent", "stroke": "independent", "xOffset": "independent"}}
},
{"hconcat": [
 {"width": 6, "height": 5, "data": {"values": []}, "mark": "point", "encoding": {}},
 {"width": 152, "height": 170,
  "title": {"text": "I", "dx": -55, "offset": -5},
  "data": {"name": "I_d"},
  "resolve": {"axis": {"x": "independent"}},
  "layer": [
   {"mark": {"type": "rule", "strokeWidth": 1.5},
    "encoding": {
     "x": {"field": "t", "type": "quantitative", "scale": {"domain": [-5, 125.3], "nice": false, "zero": false},
      "axis": {"orient": "bottom", "values": [0, 30, 60, 90, 120], "title": "Time (min)", "labelFlush": false, "labelFontSize": 15, "labelPadding": 1, "titlePadding": 6}},
     "y": {"field": "lo", "type": "quantitative", "scale": {"domain": [0, 500], "nice": false, "zero": false},
      "axis": {"values": [0, 100, 200, 300, 400, 500], "title": "Glucose (mg/dl)", "titleX": -47, "titleBaseline": "middle", "labelFontSize": 15, "labelOverlap": false, "tickCount": 6}},
     "y2": {"field": "hi"},
     "color": {"field": "g", "type": "nominal", "scale": {"domain": ["MO-C", "MO-Akk"], "range": ["#3A6EEA", "#E0505C"]}, "legend": null}}},
   {"mark": {"type": "tick", "orient": "horizontal", "size": 8, "thickness": 1.5},
    "encoding": {"x": {"field": "t", "type": "quantitative", "axis": null}, "y": {"field": "lo", "type": "quantitative"}, "color": {"field": "g", "type": "nominal", "legend": null}}},
   {"mark": {"type": "tick", "orient": "horizontal", "size": 8, "thickness": 1.5},
    "encoding": {"x": {"field": "t", "type": "quantitative", "axis": null}, "y": {"field": "hi", "type": "quantitative"}, "color": {"field": "g", "type": "nominal", "legend": null}}},
   {"mark": {"type": "line", "strokeWidth": 1.6},
    "encoding": {"x": {"field": "t", "type": "quantitative", "axis": {"orient": "top", "title": "Glucose tolerance", "labels": false, "ticks": false, "domain": false, "titleFontSize": 17.5, "titlePadding": 8.5, "titleX": 132}},
     "y": {"field": "m", "type": "quantitative"}, "color": {"field": "g", "type": "nominal", "legend": null}}},
   {"mark": {"type": "circle", "size": 85, "opacity": 1, "strokeWidth": 1.2},
    "encoding": {"x": {"field": "t", "type": "quantitative", "axis": null}, "y": {"field": "m", "type": "quantitative"},
     "fill": {"field": "g", "type": "nominal", "scale": {"domain": ["MO-C", "MO-Akk"], "range": ["#2F6CE8", "#C9303F"]}, "legend": null},
     "stroke": {"field": "g", "type": "nominal", "scale": {"domain": ["MO-C", "MO-Akk"], "range": ["#1B45A8", "#7A1019"]}, "legend": null}}}
  ]},
 {"width": 25, "height": 5, "data": {"values": []}, "mark": "point", "encoding": {}},
 {"width": 62, "height": 170,
  "resolve": {"axis": {"x": "independent"}},
  "layer": [
   {"data": {"name": "AUC_pts"}, "mark": {"type": "circle", "size": 50, "opacity": 1, "strokeWidth": 0.8},
    "encoding": {
     "x": {"field": "g", "type": "nominal", "scale": {"type": "band", "domain": ["MO-C", "MO-Akk"], "paddingInner": 0, "paddingOuter": 0.1},
      "axis": {"orient": "bottom", "title": null, "labelAngle": -45, "labelAlign": "right", "labelBaseline": "top", "labelFontSize": 12, "labelPadding": 1}},
     "xOffset": {"field": "s", "type": "quantitative", "scale": {"domain": [-2.35, 2.35], "nice": false, "zero": false}},
     "y": {"field": "v", "type": "quantitative", "scale": {"domain": [0, 40], "range": [170, 34], "nice": false, "zero": false},
      "axis": {"values": [0, 10, 20, 30, 40], "title": null, "labelFontSize": 12, "tickSize": 4, "labelOverlap": false}},
     "fill": {"field": "g", "type": "nominal", "scale": {"domain": ["MO-C", "MO-Akk"], "range": ["#2F6CE8", "#B21F2E"]}, "legend": null},
     "stroke": {"field": "g", "type": "nominal", "scale": {"domain": ["MO-C", "MO-Akk"], "range": ["#2F6CE8", "#7A1019"]}, "legend": null}}},
   {"data": {"name": "AUC_sum"}, "mark": {"type": "rule", "color": "#000", "strokeWidth": 1.6},
    "encoding": {"x": {"field": "g", "type": "nominal", "axis": null}, "xOffset": {"field": "s", "type": "quantitative"}, "y": {"field": "lo", "type": "quantitative"}, "y2": {"field": "hi"}}},
   {"data": {"name": "AUC_sum"}, "mark": {"type": "tick", "color": "#000", "thickness": 1.6, "size": 7},
    "encoding": {"x": {"field": "g", "type": "nominal", "axis": null}, "xOffset": {"field": "s", "type": "quantitative"}, "y": {"field": "lo", "type": "quantitative"}}},
   {"data": {"name": "AUC_sum"}, "mark": {"type": "tick", "color": "#000", "thickness": 1.6, "size": 7},
    "encoding": {"x": {"field": "g", "type": "nominal", "axis": null}, "xOffset": {"field": "s", "type": "quantitative"}, "y": {"field": "hi", "type": "quantitative"}}},
   {"data": {"name": "AUC_sum"}, "mark": {"type": "tick", "color": "#000", "thickness": 1.6, "size": 13},
    "encoding": {"x": {"field": "g", "type": "nominal", "axis": {"orient": "top", "title": "AUC (×10³)", "labels": false, "ticks": false, "domain": false, "titleFontSize": 13, "titleX": 30, "titleY": 12, "titleBaseline": "middle", "titleAlign": "center"}},
     "xOffset": {"field": "s", "type": "quantitative"}, "y": {"field": "m", "type": "quantitative"}}},
   {"data": {"name": "AUC_sig"}, "mark": {"type": "text", "fontSize": 11, "baseline": "middle"},
    "encoding": {"x": {"field": "g", "type": "nominal", "axis": null}, "xOffset": {"field": "s", "type": "quantitative"}, "y": {"field": "v", "type": "quantitative"}, "text": {"field": "t"}}}
  ]},
 {"width": 108, "height": 5, "data": {"values": []}, "mark": "point", "encoding": {}},
 {"width": 120, "height": 170,
  "title": {"text": "J", "dx": -72, "offset": -5},
  "resolve": {"axis": {"x": "independent"}},
  "layer": [
   {"data": {"name": "J_pts"}, "mark": {"type": "circle", "size": 95, "opacity": 1, "strokeWidth": 1},
    "encoding": {"x": {"field": "c", "type": "nominal", "scale": {"type": "band", "domain": ["0", "15"], "paddingInner": 0.154, "paddingOuter": 0}, "axis": null},
     "xOffset": {"field": "s", "type": "quantitative", "scale": {"domain": [-4.58, 4.58], "nice": false, "zero": false}},
     "y": {"field": "v", "type": "quantitative", "scale": {"domain": [0, 1500], "nice": false, "zero": false},
      "axis": {"values": [0, 500, 1000, 1500], "format": "d", "title": "pM", "titleX": -55, "titleBaseline": "middle", "labelFontSize": 15.5, "labelOverlap": false}},
     "fill": {"field": "g", "type": "nominal", "scale": {"domain": ["MO-C", "MO-Akk"], "range": ["#2F6CE8", "#B21F2E"]}, "legend": null},
     "stroke": {"field": "g", "type": "nominal", "scale": {"domain": ["MO-C", "MO-Akk"], "range": ["#2F6CE8", "#7A1019"]}, "legend": null}}},
   {"data": {"name": "J_cat"}, "mark": {"type": "tick", "color": "#555555", "thickness": 1.5, "size": 55},
    "encoding": {"x": {"field": "c", "type": "nominal",
      "axis": {"orient": "bottom", "title": "min", "labelAngle": 0, "domain": false, "ticks": false, "tickSize": 0, "labelPadding": 5, "labelFontSize": 15.5, "titlePadding": 9}},
     "y": {"datum": 0, "type": "quantitative"}}},
   {"data": {"name": "J_sum"}, "mark": {"type": "rule", "color": "#000", "strokeWidth": 2},
    "encoding": {"x": {"field": "c", "type": "nominal", "axis": null}, "xOffset": {"field": "s", "type": "quantitative"}, "y": {"field": "lo", "type": "quantitative"}, "y2": {"field": "hi"}}},
   {"data": {"name": "J_sum"}, "mark": {"type": "tick", "color": "#000", "thickness": 2, "size": 8},
    "encoding": {"x": {"field": "c", "type": "nominal", "axis": null}, "xOffset": {"field": "s", "type": "quantitative"}, "y": {"field": "lo", "type": "quantitative"}}},
   {"data": {"name": "J_sum"}, "mark": {"type": "tick", "color": "#000", "thickness": 2, "size": 8},
    "encoding": {"x": {"field": "c", "type": "nominal", "axis": null}, "xOffset": {"field": "s", "type": "quantitative"}, "y": {"field": "hi", "type": "quantitative"}}},
   {"data": {"name": "J_sum"}, "mark": {"type": "tick", "color": "#000", "thickness": 2, "size": 16},
    "encoding": {"x": {"field": "c", "type": "nominal", "axis": {"orient": "top", "title": "Insulin", "labels": false, "ticks": false, "domain": false, "titleFontSize": 17.5, "titlePadding": 8.5}},
     "xOffset": {"field": "s", "type": "quantitative"}, "y": {"field": "m", "type": "quantitative"}}},
   {"data": {"name": "J_sig"}, "mark": {"type": "text", "fontSize": 12, "baseline": "middle"},
    "encoding": {"x": {"field": "c", "type": "nominal", "axis": null}, "xOffset": {"field": "s", "type": "quantitative"}, "y": {"field": "v", "type": "quantitative"}, "text": {"field": "t"}}}
  ]},
 {"width": 88, "height": 5, "data": {"values": []}, "mark": "point", "encoding": {}},
 {"width": 88, "height": 171,
  "title": {"text": "K", "dx": -46, "offset": -5},
  "resolve": {"axis": {"x": "independent"}},
  "layer": [
   {"data": {"name": "K_pts"}, "mark": {"type": "circle", "size": 95, "opacity": 1, "strokeWidth": 1},
    "encoding": {
     "x": {"field": "g", "type": "nominal", "scale": {"type": "band", "domain": ["MO-C", "MO-Akk"], "paddingInner": 0, "paddingOuter": 0},
      "axis": {"orient": "bottom", "title": null, "labelAngle": -45, "labelAlign": "right", "labelBaseline": "top", "labelFontSize": 15, "labelPadding": 1}},
     "xOffset": {"field": "s", "type": "quantitative", "scale": {"domain": [-3.67, 3.67], "nice": false, "zero": false}},
     "y": {"field": "v", "type": "quantitative", "scale": {"domain": [3, 9], "nice": false, "zero": false},
      "axis": {"values": [3, 5, 7, 9], "title": "Cell number/100 µm", "titleX": -30, "titleBaseline": "middle", "labelFontSize": 15, "labelOverlap": false}},
     "fill": {"field": "g", "type": "nominal", "scale": {"domain": ["MO-C", "MO-Akk"], "range": ["#2F6CE8", "#B21F2E"]}, "legend": null},
     "stroke": {"field": "g", "type": "nominal", "scale": {"domain": ["MO-C", "MO-Akk"], "range": ["#2F6CE8", "#7A1019"]}, "legend": null}}},
   {"data": {"name": "K_sum"}, "mark": {"type": "rule", "color": "#000", "strokeWidth": 2},
    "encoding": {"x": {"field": "g", "type": "nominal", "axis": null}, "xOffset": {"field": "s", "type": "quantitative"}, "y": {"field": "lo", "type": "quantitative"}, "y2": {"field": "hi"}}},
   {"data": {"name": "K_sum"}, "mark": {"type": "tick", "color": "#000", "thickness": 2, "size": 8},
    "encoding": {"x": {"field": "g", "type": "nominal", "axis": null}, "xOffset": {"field": "s", "type": "quantitative"}, "y": {"field": "lo", "type": "quantitative"}}},
   {"data": {"name": "K_sum"}, "mark": {"type": "tick", "color": "#000", "thickness": 2, "size": 8},
    "encoding": {"x": {"field": "g", "type": "nominal", "axis": null}, "xOffset": {"field": "s", "type": "quantitative"}, "y": {"field": "hi", "type": "quantitative"}}},
   {"data": {"name": "K_sum"}, "mark": {"type": "tick", "color": "#000", "thickness": 2, "size": 16},
    "encoding": {"x": {"field": "g", "type": "nominal", "axis": {"orient": "top", "title": "Goblet cells", "labels": false, "ticks": false, "domain": false, "titleFontSize": 17.5, "titlePadding": 6}},
     "xOffset": {"field": "s", "type": "quantitative"}, "y": {"field": "m", "type": "quantitative"}}},
   {"data": {"name": "K_sig"}, "mark": {"type": "text", "fontSize": 12, "baseline": "middle"},
    "encoding": {"x": {"field": "g", "type": "nominal", "axis": null}, "xOffset": {"field": "s", "type": "quantitative"}, "y": {"field": "v", "type": "quantitative"}, "text": {"field": "t"}}}
  ]},
 {"width": 107, "height": 5, "data": {"values": []}, "mark": "point", "encoding": {}},
 {"width": 242, "height": 170,
  "title": {"text": "L", "dx": -66, "offset": -5},
  "resolve": {"axis": {"x": "independent"}},
  "layer": [
   {"data": {"name": "L_pts"}, "mark": {"type": "circle", "size": 90, "opacity": 1, "strokeWidth": 1},
    "encoding": {"x": {"field": "c", "type": "nominal", "scale": {"type": "band", "domain": ["Muc2", "Ocln", "Zo1", "Zo2"], "paddingInner": 0.22, "paddingOuter": 0}, "axis": null},
     "xOffset": {"field": "s", "type": "quantitative", "scale": {"domain": [-4.17, 4.17], "nice": false, "zero": false}},
     "y": {"field": "v", "type": "quantitative", "scale": {"domain": [0, 200], "nice": false, "zero": false},
      "axis": {"values": [0, 50, 100, 150, 200], "title": "Relative expression", "titleX": -51, "titleBaseline": "middle", "labelFontSize": 16.5, "titleFontSize": 16.5, "labelOverlap": false}},
     "fill": {"field": "g", "type": "nominal", "scale": {"domain": ["MO-C", "MO-Akk"], "range": ["#2F6CE8", "#B21F2E"]}, "legend": null},
     "stroke": {"field": "g", "type": "nominal", "scale": {"domain": ["MO-C", "MO-Akk"], "range": ["#2F6CE8", "#7A1019"]}, "legend": null}}},
   {"data": {"name": "L_cat"}, "mark": {"type": "tick", "color": "#555555", "thickness": 1.5, "size": 50},
    "encoding": {"x": {"field": "c", "type": "nominal",
      "axis": {"orient": "bottom", "title": null, "labelAngle": 0, "domain": false, "ticks": false, "tickSize": 0, "labelPadding": 10, "labelFontSize": 15.5, "labelFontStyle": "italic"}},
     "y": {"datum": 0, "type": "quantitative"}}},
   {"data": {"name": "L_sum"}, "mark": {"type": "rule", "color": "#000", "strokeWidth": 2},
    "encoding": {"x": {"field": "c", "type": "nominal", "axis": null}, "xOffset": {"field": "s", "type": "quantitative"}, "y": {"field": "lo", "type": "quantitative"}, "y2": {"field": "hi"}}},
   {"data": {"name": "L_sum"}, "mark": {"type": "tick", "color": "#000", "thickness": 2, "size": 7},
    "encoding": {"x": {"field": "c", "type": "nominal", "axis": null}, "xOffset": {"field": "s", "type": "quantitative"}, "y": {"field": "lo", "type": "quantitative"}}},
   {"data": {"name": "L_sum"}, "mark": {"type": "tick", "color": "#000", "thickness": 2, "size": 7},
    "encoding": {"x": {"field": "c", "type": "nominal", "axis": null}, "xOffset": {"field": "s", "type": "quantitative"}, "y": {"field": "hi", "type": "quantitative"}}},
   {"data": {"name": "L_sum"}, "mark": {"type": "tick", "color": "#000", "thickness": 2, "size": 14},
    "encoding": {"x": {"field": "c", "type": "nominal", "axis": {"orient": "top", "title": "Ileum (20 weeks)", "labels": false, "ticks": false, "domain": false, "titleFontSize": 17.5, "titlePadding": 5}},
     "xOffset": {"field": "s", "type": "quantitative"}, "y": {"field": "m", "type": "quantitative"}}},
   {"data": {"name": "L_sig"}, "mark": {"type": "text", "fontSize": 12, "baseline": "middle"},
    "encoding": {"x": {"field": "c", "type": "nominal", "axis": null}, "xOffset": {"field": "s", "type": "quantitative"}, "y": {"field": "v", "type": "quantitative"}, "text": {"field": "t"}}}
  ]}
 ],
 "spacing": 0, "bounds": "flush",
 "resolve": {"scale": {"color": "independent", "fill": "independent", "stroke": "independent", "xOffset": "independent"}}
}
],
"config": {
 "font": "Liberation Sans",
 "view": {"stroke": null},
 "legend": {"disable": true},
 "title": {"fontSize": 18, "fontWeight": "bold", "anchor": "start", "frame": "group", "color": "#000000", "font": "Liberation Sans"},
 "axis": {"domainColor": "#555555", "tickColor": "#555555", "domainWidth": 1.5, "tickWidth": 1.5, "tickSize": 5, "labelColor": "#000000", "titleColor": "#000000", "labelFontSize": 15, "titleFontSize": 15.5, "titleFontWeight": "normal", "grid": false, "labelPadding": 3, "labelOverlap": false, "labelFont": "Liberation Sans", "titleFont": "Liberation Sans"},
 "text": {"color": "#000000", "font": "Liberation Sans"}
}
}
